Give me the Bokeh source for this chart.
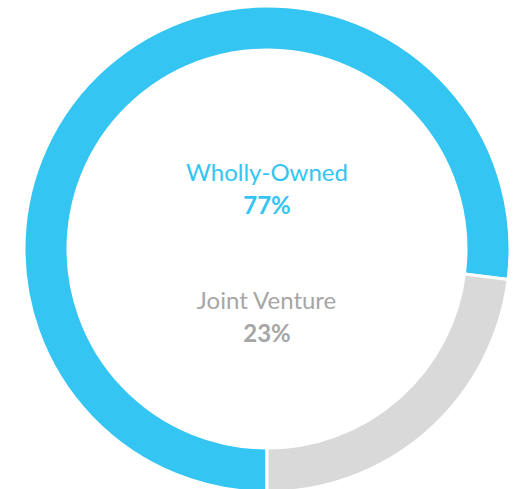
import numpy as np
from bokeh.plotting import figure
from bokeh.models import Range1d, ColumnDataSource
from bokeh.core.properties import value
from bokeh.embed import file_html
from bokeh.resources import INLINE

categories = ["Wholly-Owned", "Joint Venture"]
shares = [77, 23]
colors = ["#35C5F2", "#D9D9D9"]
label_colors = ["#35C5F2", "#A6A6A6"]

W, H = 522, 489
p = figure(width=W, height=H, output_backend="svg", toolbar_location=None,
           x_range=Range1d(0, W), y_range=Range1d(-H, 0),
           min_border=0)
p.axis.visible = False
p.grid.visible = False
p.outline_line_color = None
p.background_fill_color = "white"

cx, cy = 266.5, -248.5
r_out, r_in = 243, 199

# Joint Venture starts at 6 o'clock and runs counter-clockwise
fr = np.array(shares) / 100.0 * 2 * np.pi
start_jv = -np.pi / 2
end_jv = start_jv + fr[1]
starts = [end_jv, start_jv]
ends = [end_jv + fr[0], end_jv]

src = ColumnDataSource(dict(start=starts, end=ends, color=colors))
p.annular_wedge(x=cx, y=cy, inner_radius=r_in, outer_radius=r_out,
                start_angle="start", end_angle="end", fill_color="color",
                line_color="white", line_width=3, source=src)

font = value("Lato")
fs = "24px"
p.text(x=[cx], y=[-171], text=[categories[0]], text_color=label_colors[0],
       text_font=font, text_font_size=fs, text_align="center", text_baseline="middle")
p.text(x=[cx], y=[-204], text=[f"{shares[0]}%"], text_color=label_colors[0],
       text_font=font, text_font_size=fs, text_font_style="bold",
       text_align="center", text_baseline="middle")
p.text(x=[cx], y=[-299], text=[categories[1]], text_color=label_colors[1],
       text_font=font, text_font_size=fs, text_align="center", text_baseline="middle")
p.text(x=[cx], y=[-332], text=[f"{shares[1]}%"], text_color=label_colors[1],
       text_font=font, text_font_size=fs, text_font_style="bold",
       text_align="center", text_baseline="middle")

open("out.html", "w").write(file_html(p, INLINE))
